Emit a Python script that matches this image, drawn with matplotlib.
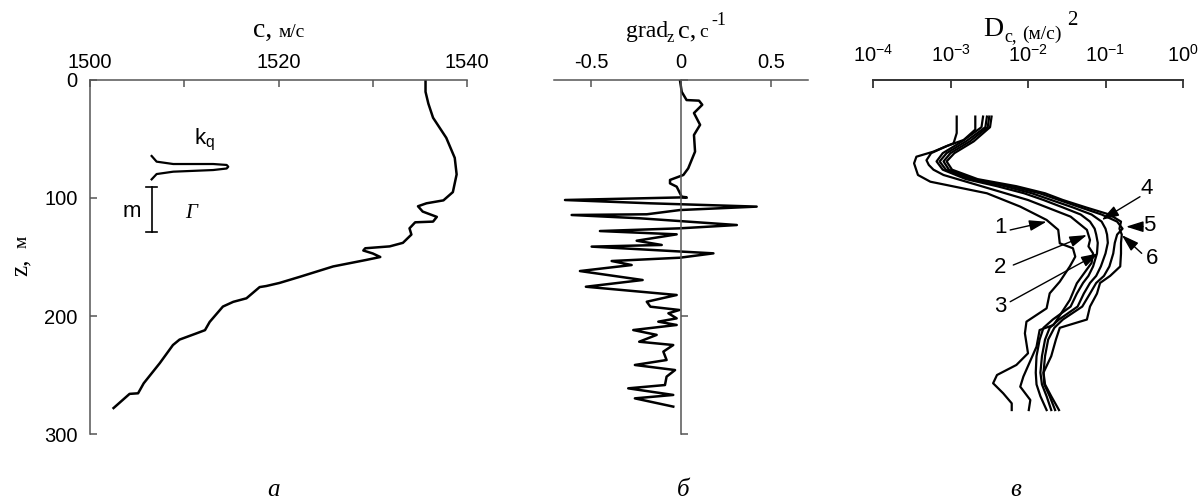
import numpy as np
import matplotlib
matplotlib.use("Agg")
import matplotlib.pyplot as plt

plt.rcParams['font.family'] = ['Liberation Sans', 'DejaVu Sans']

# ---------------- data ----------------
# panel a: sound speed profile
depth_a = [0, 10, 20, 32, 49, 66, 80, 95, 102, 104.5, 107, 111.5, 116, 120, 120.6, 125.7,
           131, 138, 141, 142.6, 144.5, 147, 150, 152.5, 158, 166.7, 172, 174.6, 175.5,
           185, 188, 192, 205, 212, 214.7, 220, 224.6, 240, 257, 262.7, 265.5, 266, 278]
speed_a = [1535.6, 1535.6, 1535.9, 1536.4, 1537.8, 1538.7, 1538.9, 1538.5, 1537.5, 1535.7,
           1534.8, 1535.3, 1536.8, 1536.4, 1534.5, 1533.9, 1534.1, 1533.2, 1531.8, 1529.2,
           1529.0, 1530.0, 1530.8, 1529.3, 1525.8, 1522.3, 1520.1, 1518.7, 1518.0, 1516.6,
           1515.2, 1514.1, 1512.7, 1512.2, 1511.3, 1509.5, 1508.8, 1507.4, 1505.7, 1505.3,
           1505.1, 1504.2, 1502.5]

# k_q sketch
kq_c = [1506.54, 1507.07, 1508.83, 1513.07, 1514.5, 1514.67, 1514.5, 1513.07, 1508.83, 1507.07, 1506.54]
kq_z = [64.4, 69.2, 71.2, 71.2, 72.0, 73.5, 75.0, 76.3, 77.7, 79.7, 84.2]

# m scale bar
m_c = 1506.54
m_z = [90.9, 128.5]

# panel b: vertical gradient
depth_b = [0, 10, 17, 17.5, 21, 28, 38, 46.6, 60.7, 74.9, 80.5, 84.7, 87.6, 90.4, 98.9, 99.4,
           101.7, 104.5, 107.3, 110.2, 113.8, 114.4, 117.2, 122.9, 125.7, 128, 130.8, 136.2,
           139.8, 141.2, 146.9, 150.6, 153.4, 156.8, 161.9, 169.5, 175.2, 182.2, 187.9, 192.1,
           194.9, 197.7, 202, 204.8, 207.6, 211.9, 216, 221.8, 224.6, 230.2, 237.3, 241.5,
           245.8, 251.4, 258.5, 261.3, 266.9, 269.8, 276.8]
grad_b = [-0.006, 0.004, 0.031, 0.1, 0.118, 0.072, 0.106, 0.072, 0.078, 0.04, 0.013, -0.061,
          -0.061, -0.024, 0.004, 0.031, -0.644, -0.17, 0.42, -0.006, -0.19, -0.607, -0.228,
          0.31, -0.006, -0.45, -0.024, -0.246, -0.107, -0.496, 0.18, -0.006, -0.385, -0.274,
          -0.561, -0.213, -0.528, -0.024, -0.19, -0.17, -0.009, -0.07, -0.024, -0.126, -0.024,
          -0.265, -0.135, -0.232, -0.043, -0.098, -0.08, -0.256, -0.033, -0.08, -0.089, -0.293,
          -0.043, -0.256, -0.043]

# panel c: structure function, log10 values
depth_c1 = [31, 45, 53.6, 60.7, 65, 70.6, 80.5, 86.2, 89, 96, 107.3, 118.6, 127, 138.4, 142.6,
            149.7, 158, 170.9, 180.8, 193.5, 204.8, 214.7, 231.6, 241.5, 250, 257, 265.5, 274, 279.7]
logd_c1 = [-2.92, -2.92, -2.96, -3.22, -3.44, -3.47, -3.42, -3.26, -3.05, -2.53, -2.10, -1.76,
           -1.61, -1.59, -1.42, -1.39, -1.46, -1.59, -1.72, -1.76, -2.02, -2.04, -2.0, -2.15,
           -2.40, -2.45, -2.32, -2.21, -2.21]
depth_c2 = [31, 42, 50.8, 56, 62, 68, 72, 76, 80.5, 90.4, 101.7, 115.8, 127, 135.6, 141, 147,
            155, 172.3, 186.4, 207.6, 211.9, 226, 251.4, 259.9, 271.2, 279.7]
logd_c2 = [-2.68, -2.68, -2.83, -3.05, -3.25, -3.31, -3.28, -3.22, -3.09, -2.58, -2.0, -1.45,
           -1.24, -1.20, -1.22, -1.16, -1.18, -1.37, -1.46, -1.67, -1.85, -1.89, -2.06, -2.10,
           -1.97, -1.99]
depth_cb = [31, 40, 52, 62, 69, 76, 84, 90, 96, 101.7, 108, 114, 120, 126, 131, 138, 147, 158,
            166, 172, 181, 192, 203, 210, 220, 234, 248, 258, 268, 279.7]
logd_c3 = [-2.58, -2.60, -2.85, -3.10, -3.18, -3.10, -2.80, -2.40, -2.05, -1.80, -1.55, -1.32,
           -1.20, -1.14, -1.12, -1.10, -1.11, -1.16, -1.22, -1.29, -1.37, -1.45, -1.68, -1.80,
           -1.85, -1.89, -1.90, -1.89, -1.84, -1.76]
logd_c4 = [-2.53, -2.55, -2.80, -3.05, -3.14, -3.06, -2.75, -2.30, -1.95, -1.70, -1.42, -1.18,
           -1.05, -1.00, -0.98, -0.97, -1.00, -1.06, -1.12, -1.20, -1.28, -1.36, -1.60, -1.72,
           -1.78, -1.82, -1.84, -1.82, -1.76, -1.70]
logd_c5 = [-2.50, -2.52, -2.75, -3.00, -3.09, -3.02, -2.70, -2.22, -1.85, -1.60, -1.32, -1.05,
           -0.85, -0.78, -0.85, -0.88, -0.90, -0.95, -1.02, -1.12, -1.20, -1.30, -1.55, -1.66,
           -1.74, -1.78, -1.80, -1.79, -1.72, -1.65]
logd_c6 = [-2.47, -2.49, -2.70, -2.95, -3.05, -2.98, -2.65, -2.15, -1.78, -1.55, -1.25, -0.95,
           -0.80, -0.82, -0.79, -0.80, -0.80, -0.81, -0.94, -1.07, -1.11, -1.20, -1.24, -1.59,
           -1.64, -1.70, -1.80, -1.78, -1.70, -1.60]

# curve labels: text position, arrow tail, arrow head (log10 D, depth)
curve_labels = ['1', '2', '3', '4', '5', '6']
lab_text = [(-2.36, 125.4), (-2.36, 159.3), (-2.36, 192.1), (-0.47, 91.8), (-0.43, 122.9), (-0.40, 151.1)]
lab_tail = [(-2.23, 127.1), (-2.19, 156.8), (-2.23, 187.9), (-0.555, 98.9), (-0.516, 124.3), (-0.533, 146.9)]
lab_head = [(-1.76, 120.1), (-1.24, 131.4), (-1.09, 146.9), (-1.05, 118.6), (-0.735, 124.3), (-0.79, 131.4)]

a_xticks = [1500, 1510, 1520, 1530, 1540]
a_xlabels = ['1500', '', '1520', '', '1540']
yticks = [0, 100, 200, 300]
b_xticks = [-0.5, 0, 0.5]
b_xlabels = ['-0.5', '0', '0.5']
c_xticks = [1e-4, 1e-3, 1e-2, 1e-1, 1e0]
c_xlabels = [r'$\mathregular{10^{-4}}$', r'$\mathregular{10^{-3}}$', r'$\mathregular{10^{-2}}$',
             r'$\mathregular{10^{-1}}$', r'$\mathregular{10^{0}}$']

# ---------------- figure ----------------
W, H = 1198, 499
fig = plt.figure(figsize=(W / 100, H / 100), dpi=100)


def rect(x0, x1, y0, y1):
    return [x0 / W, 1 - y1 / H, (x1 - x0) / W, (y1 - y0) / H]


def fx(px):
    return px / W


def fy(py):
    return 1 - py / H


SPC = '#555555'
LW = 1.8
TICKFS = 14.5
SERIF = ['Liberation Serif', 'DejaVu Serif']
tickkw = dict(direction='in', length=5, width=1.1, color=SPC, labelsize=TICKFS, labelcolor='k')

# panel a
axa = fig.add_axes(rect(90, 467, 80, 434))
axa.plot(speed_a, depth_a, color='k', lw=LW)
axa.plot(kq_c, kq_z, color='k', lw=1.6)
axa.plot([m_c, m_c], m_z, color='k', lw=1.2)
for zz in m_z:
    axa.plot([m_c - 0.55, m_c + 0.55], [zz, zz], color='k', lw=1.2)
axa.text(1512.2, 51, r'k$_\mathregular{q}$', fontsize=16, ha='center', va='center')
axa.text(1504.4, 111.6, 'm', fontsize=16, ha='center', va='center')
axa.text(1510.7, 113, 'Г', fontsize=15, ha='center', va='center', family=SERIF, style='italic')
axa.set_xlim(1500, 1540)
axa.set_ylim(300, 0)
axa.xaxis.tick_top()
axa.set_xticks(a_xticks)
axa.set_xticklabels(a_xlabels)
axa.set_yticks(yticks)
axa.tick_params(axis='x', pad=6, **tickkw)
axa.tick_params(axis='y', pad=9, **tickkw)
for s in ['right', 'bottom']:
    axa.spines[s].set_visible(False)
for s in ['top', 'left']:
    axa.spines[s].set_color(SPC)
    axa.spines[s].set_linewidth(1.1)
axa.patch.set_visible(False)

# panel b
axb = fig.add_axes(rect(554, 808, 80, 434))
axb.plot(grad_b, depth_b, color='k', lw=LW)
axb.set_xlim(-0.705, 0.705)
axb.set_ylim(300, 0)
axb.xaxis.tick_top()
axb.set_xticks(b_xticks)
axb.set_xticklabels(b_xlabels)
axb.set_yticks(yticks)
axb.set_yticklabels([])
axb.tick_params(axis='x', pad=6, **tickkw)
axb.tick_params(axis='y', **tickkw)
axb.spines['left'].set_position(('data', 0))
for s in ['right', 'bottom']:
    axb.spines[s].set_visible(False)
for s in ['top', 'left']:
    axb.spines[s].set_color(SPC)
    axb.spines[s].set_linewidth(1.1)
axb.patch.set_visible(False)

# panel c
axc = fig.add_axes(rect(873, 1183, 80, 434))
for dz, ld in [(depth_c1, logd_c1), (depth_c2, logd_c2), (depth_cb, logd_c3),
               (depth_cb, logd_c4), (depth_cb, logd_c5), (depth_cb, logd_c6)]:
    axc.plot(10 ** np.array(ld), dz, color='k', lw=1.6)
for lab, t, tl, hd in zip(curve_labels, lab_text, lab_tail, lab_head):
    axc.annotate('', xy=(10 ** hd[0], hd[1]), xytext=(10 ** tl[0], tl[1]),
                 arrowprops=dict(arrowstyle='-|>,head_length=0.7,head_width=0.22',
                                 color='k', lw=1.0, shrinkA=0, shrinkB=0, mutation_scale=15))
    axc.text(10 ** t[0], t[1], lab, fontsize=16, ha='center', va='center')
axc.set_xscale('log')
axc.set_xlim(1e-4, 1)
axc.set_ylim(300, 0)
axc.xaxis.tick_top()
axc.set_xticks(c_xticks)
axc.set_xticklabels(c_xlabels)
axc.minorticks_off()
axc.set_yticks([])
axc.tick_params(axis='x', pad=10, direction='in', length=6, width=1.3, color='#333333',
                labelsize=TICKFS)
for s in ['right', 'bottom', 'left']:
    axc.spines[s].set_visible(False)
axc.spines['top'].set_color('#333333')
axc.spines['top'].set_linewidth(1.4)
axc.patch.set_visible(False)

# ---------------- titles ----------------
BIG, SMALL = 20, 14
fig.text(fx(253), fy(37), 'c,', fontsize=BIG, family=SERIF, va='baseline', ha='left')
fig.text(fx(279), fy(37), 'м/с', fontsize=SMALL, family=SERIF, va='baseline', ha='left')

fig.text(fx(626), fy(37), 'grad', fontsize=17, family=SERIF, va='baseline', ha='left')
fig.text(fx(667), fy(42), 'z', fontsize=12, family=SERIF, va='baseline', ha='left')
fig.text(fx(678), fy(37), 'c,', fontsize=19, family=SERIF, va='baseline', ha='left')
fig.text(fx(699), fy(37), 'с', fontsize=SMALL, family=SERIF, va='baseline', ha='left')
fig.text(fx(711), fy(25), '-1', fontsize=13, family=SERIF, va='baseline', ha='left')

fig.text(fx(983), fy(36), 'D', fontsize=BIG, family=SERIF, va='baseline', ha='left')
fig.text(fx(1004), fy(41), 'c,', fontsize=13, family=SERIF, va='baseline', ha='left')
fig.text(fx(1022), fy(39), '(м/с)', fontsize=SMALL, family=SERIF, va='baseline', ha='left')
fig.text(fx(1067), fy(25), '2', fontsize=15, family=SERIF, va='baseline', ha='left')

fig.text(fx(21), fy(267), 'z,', fontsize=18, family=SERIF, rotation=90, ha='center', va='center')
fig.text(fx(22), fy(242), 'м', fontsize=14, family=SERIF, rotation=90, ha='center', va='center')

for lab, px in [('а', 274), ('б', 683), ('в', 1016)]:
    fig.text(fx(px), fy(490), lab, fontsize=18, family=SERIF, style='italic',
             ha='center', va='center')

fig.savefig('out.png', dpi=100)
